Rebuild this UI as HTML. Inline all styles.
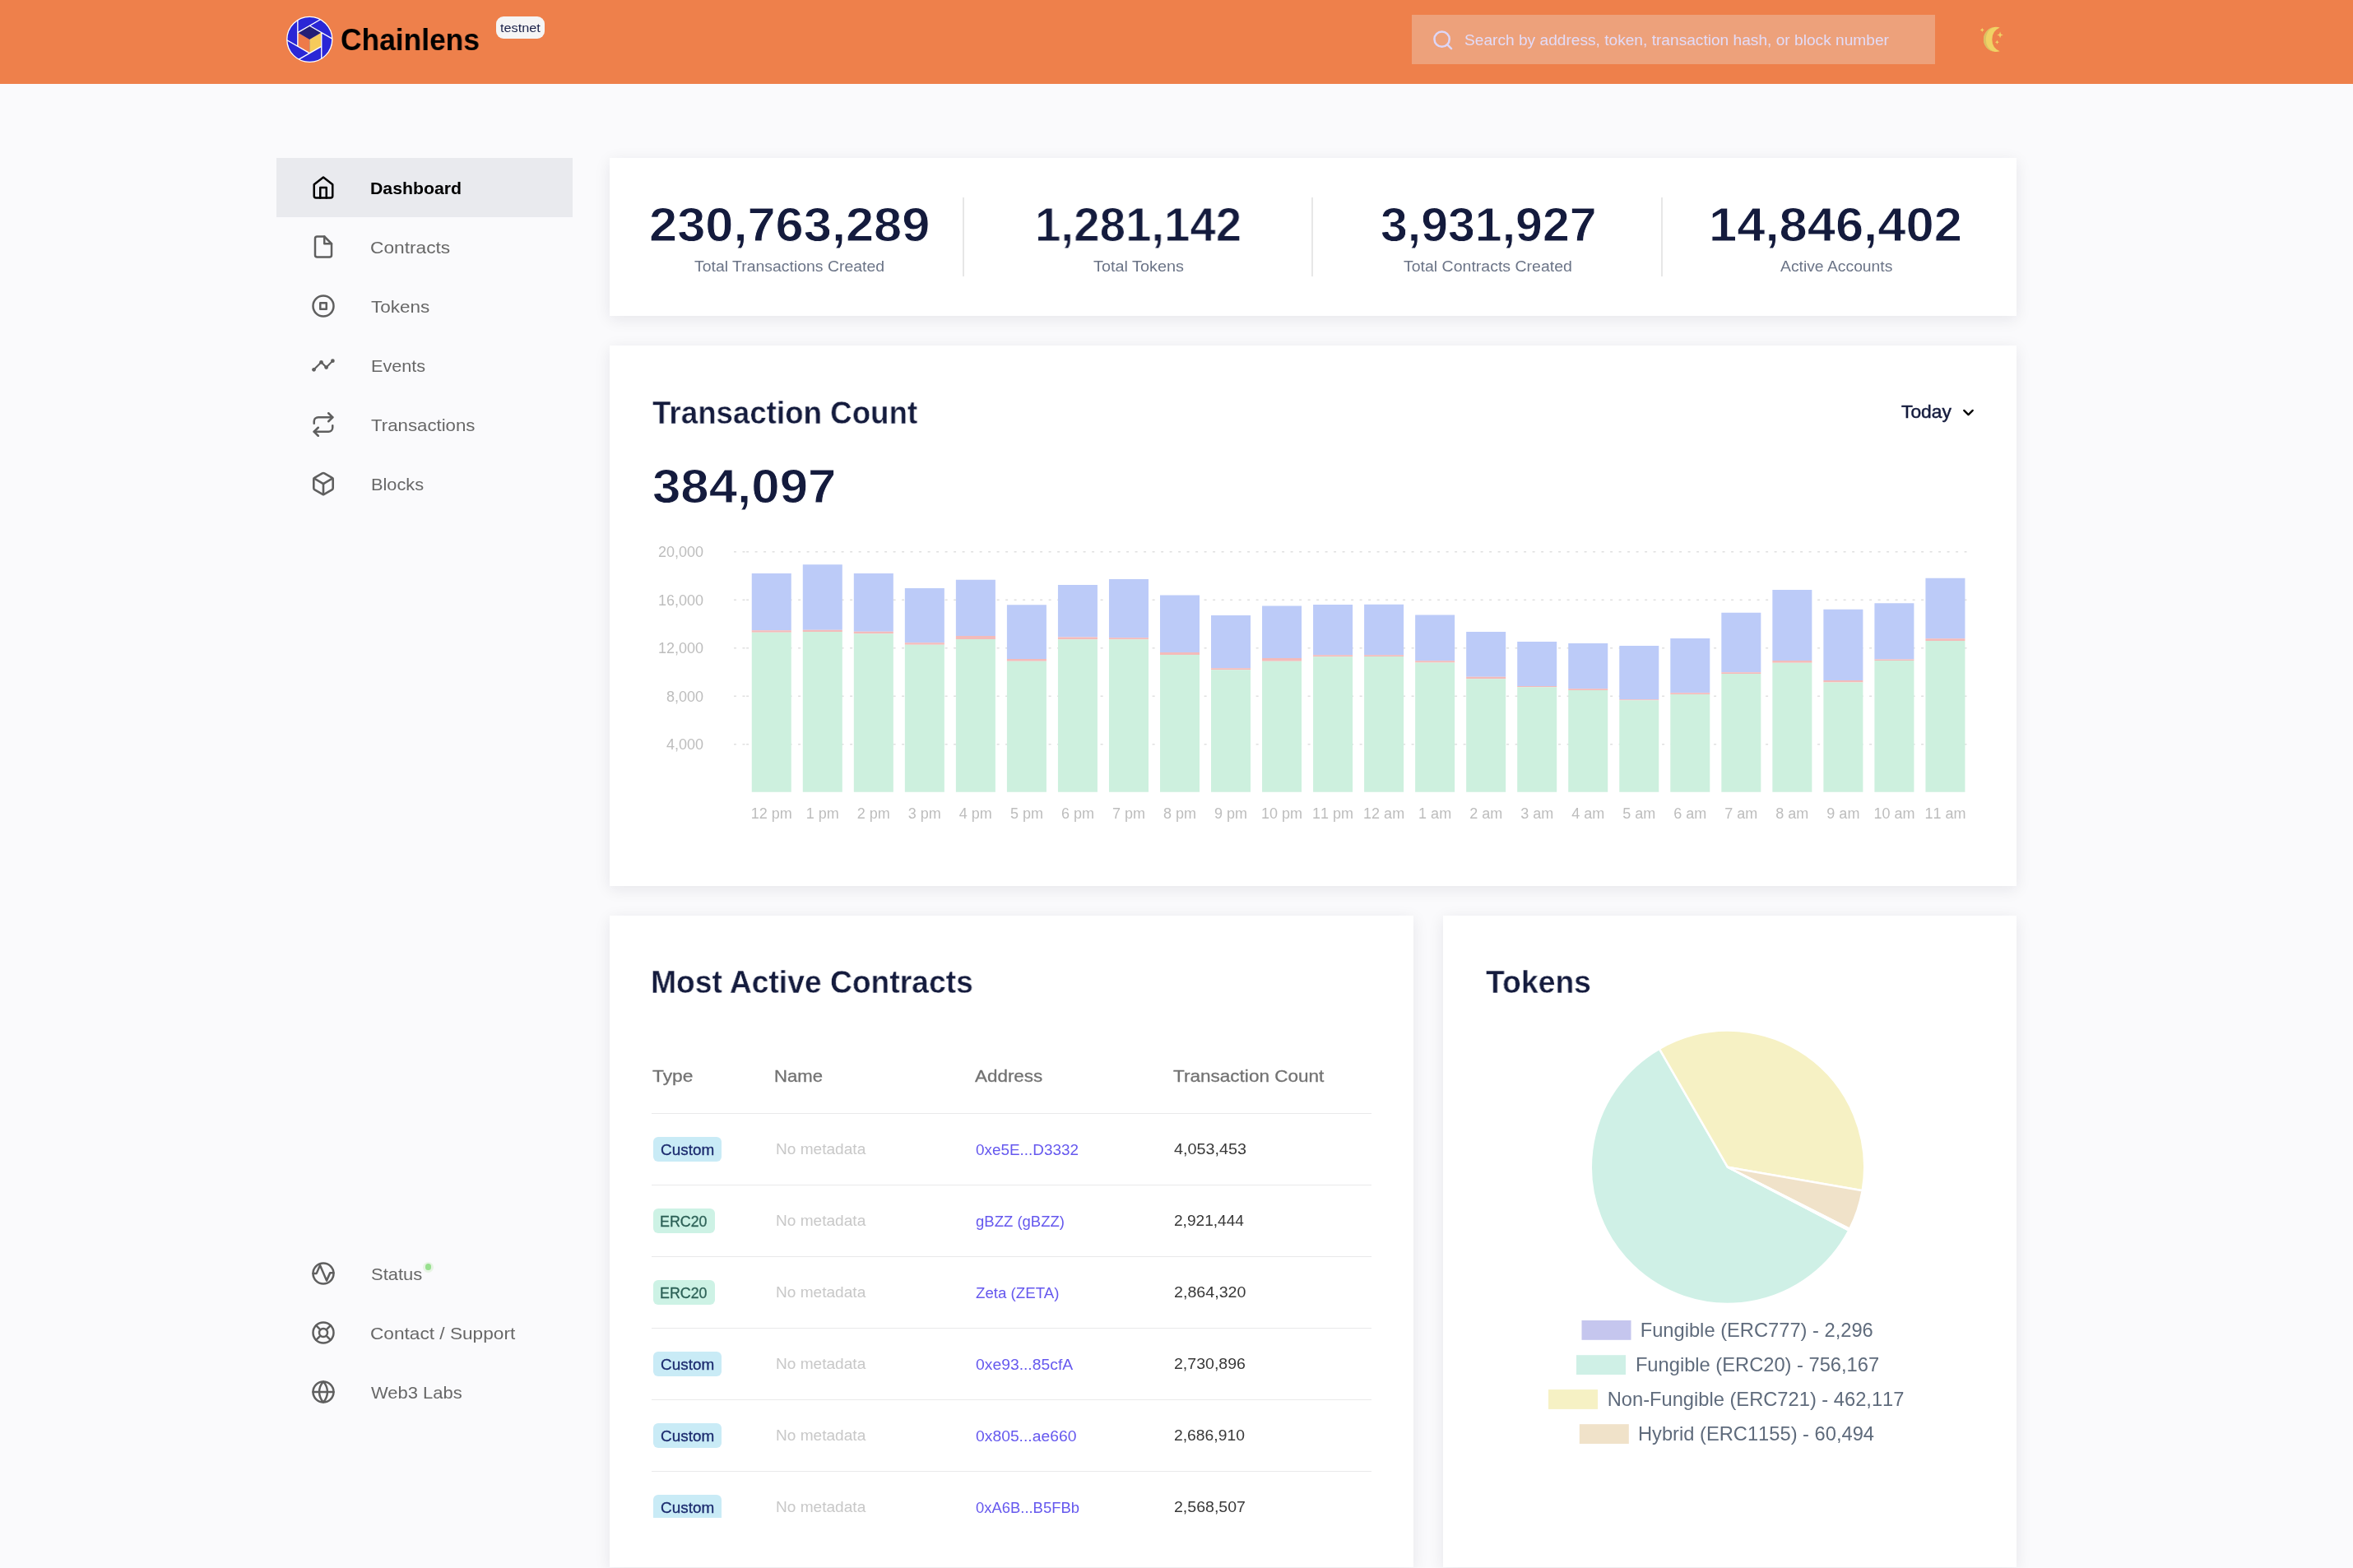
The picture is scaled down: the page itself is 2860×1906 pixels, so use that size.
<!DOCTYPE html>
<html lang="en">
<head>
<meta charset="utf-8">
<title>Chainlens</title>
<style>
*{box-sizing:border-box;margin:0;padding:0}
html,body{width:2860px;height:1906px;overflow:hidden;background:#fafafc}
body{font-family:"Liberation Sans",sans-serif;color:#141b3d;position:relative}
.abs{position:absolute}
.t{position:absolute;white-space:nowrap;line-height:1;transform-origin:0 50%;will-change:transform}
#header{position:absolute;left:0;top:0;width:2860px;height:102px;background:#ee804b}
#search{position:absolute;left:1716px;top:18px;width:636px;height:60px;background:#eda17b}
.card{position:absolute;background:#fff;box-shadow:0 4px 18px rgba(25,25,45,.085)}
.nav{position:absolute;left:336px;width:360px;height:72px;background:#e9eaee}
.ico{position:absolute;left:378px;width:30px;height:30px;fill:none;stroke:#5f5f5f;stroke-width:2;stroke-linecap:round;stroke-linejoin:round}
.badge{position:absolute;left:794px;height:29.5px;border-radius:6px}
.b-c{background:#c9ebf6;width:83px}
.b-e{background:#cdf2e5;width:74.75px}
.rowline{position:absolute;left:792px;width:875px;height:1.5px;background:#e9e9ea}
.vdiv{position:absolute;top:240px;width:2px;height:95.5px;background:#e7e7e7}
</style>
</head>
<body>
<div id="header">
<svg class="abs" style="left:340px;top:10px" width="80" height="80" viewBox="340 10 80 80">
<circle cx="376.3" cy="47.95" r="27.5" fill="#2a27d6" stroke="#fff" stroke-width="1.3"/>
<path d="M376.30 31.25L361.84 39.60L376.30 47.95L390.76 39.60Z" fill="#231e76"/>
<path d="M361.84 39.60L376.30 47.95L376.30 64.65L361.84 56.30Z" fill="#ee7a49"/>
<path d="M390.76 39.60L376.30 47.95L376.30 64.65L390.76 56.30Z" fill="#f6cb5b"/>
<path d="M376.30 31.25L403.79 47.12 M390.76 39.60L390.76 71.34 M390.76 56.30L363.28 72.17 M376.30 64.65L348.81 48.78 M361.84 56.30L361.84 24.56 M361.84 39.60L389.32 23.73" stroke="#fff" stroke-width="1.35" fill="none"/>
</svg>

<span class="t" id="brand" style="left:413.64px;top:31.01px;font-size:36.72px;color:#000;font-weight:bold;transform:scaleX(0.9633);">Chainlens</span>
<div class="abs" style="left:603px;top:20px;width:59.3px;height:27.2px;border-radius:9px;background:#f5f5f5"></div>
<span class="t" id="testnet" style="left:607.7px;top:26.0px;font-size:15.3px;color:#1a2148;transform:scaleX(1.0628);">testnet</span>
<div id="search"></div>
<svg class="abs" style="left:1740px;top:35px;fill:none;stroke:#ddd6f7;stroke-width:2.2;stroke-linecap:round;stroke-linejoin:round" width="27.5" height="27.5" viewBox="0 0 24 24"><circle cx="11" cy="11" r="8"/><line x1="21" y1="21" x2="16.65" y2="16.65"/></svg>
<span class="t" id="ph" style="left:1780.0px;top:41.0px;font-size:17.85px;color:#e3dbf7;transform:scaleX(1.0725);">Search by address, token, transaction hash, or block number</span>
<svg class="abs" style="left:2400px;top:26px" width="44" height="44" viewBox="2400 26 44 44">
<path d="M2430.7 33.5A15.1 15.1 0 1 0 2430.7 62.3A15.75 15.75 0 0 1 2430.7 33.5Z" fill="#f0d265"/>
<path d="M2423 33.1A15.1 15.1 0 0 0 2423 62.7A16.5 16.5 0 0 1 2423 33.1Z" fill="#dcc063"/>
<path d="M2409.3 33.9l.8 1.7 1.7.8-1.7.8-.8 1.7-.8-1.7-1.7-.8 1.7-.8z" fill="#f0d265"/>
<path d="M2431.1 38.6l1 2.8 2.8 1-2.8 1-1 2.8-1-2.8-2.8-1 2.8-1z" fill="#f0d265"/>
<path d="M2427.4 48.7l.8 1.7 1.7.8-1.7.8-.8 1.7-.8-1.7-1.7-.8 1.7-.8z" fill="#f0d265"/>
</svg>

</div>
<div class="nav" style="top:192px"></div>
<svg class="ico" style="top:213px;stroke:#000;" viewBox="0 0 24 24"><path d="M3 9l9-7 9 7v11a2 2 0 0 1-2 2H5a2 2 0 0 1-2-2z"/><polyline points="9 22 9 12 15 12 15 22"/></svg>
<span class="t" id="nav0" style="left:449.96px;top:219.01px;font-size:20.4px;color:#000;font-weight:bold;transform:scaleX(1.0433);">Dashboard</span>
<svg class="ico" style="top:285px;" viewBox="0 0 24 24"><path d="M13 2H6a2 2 0 0 0-2 2v16a2 2 0 0 0 2 2h12a2 2 0 0 0 2-2V9z"/><polyline points="13 2 13 9 20 9"/></svg>
<span class="t" id="nav1" style="left:449.89px;top:291.01px;font-size:20.4px;color:#676767;transform:scaleX(1.1143);">Contracts</span>
<svg class="ico" style="top:357px;" viewBox="0 0 24 24"><circle cx="12" cy="12" r="10"/><rect x="9" y="9" width="6" height="6"/></svg>
<span class="t" id="nav2" style="left:451.0px;top:363.01px;font-size:20.4px;color:#676767;transform:scaleX(1.1039);">Tokens</span>
<svg class="ico" style="top:429px;" viewBox="0 0 24 24"><polyline stroke-width="1.7" points="2.8 16.2 10 9 14.9 14 21.1 7.7"/><g fill="#5f5f5f" stroke="none"><circle cx="2.8" cy="16.2" r="1.9"/><circle cx="10" cy="9" r="1.9"/><circle cx="14.9" cy="14" r="1.9"/><circle cx="21.1" cy="7.7" r="1.9"/></g></svg>
<span class="t" id="nav3" style="left:450.54px;top:435.01px;font-size:20.4px;color:#676767;transform:scaleX(1.0615);">Events</span>
<svg class="ico" style="top:501px;" viewBox="0 0 24 24"><polyline points="17 1 21 5 17 9"/><path d="M3 11V9a4 4 0 0 1 4-4h14"/><polyline points="7 23 3 19 7 15"/><path d="M21 13v2a4 4 0 0 1-4 4H3"/></svg>
<span class="t" id="nav4" style="left:451.25px;top:507.01px;font-size:20.4px;color:#676767;transform:scaleX(1.0905);">Transactions</span>
<svg class="ico" style="top:573px;" viewBox="0.45 0.45 23.1 23.1"><path d="M21 16V8a2 2 0 0 0-1-1.73l-7-4a2 2 0 0 0-2 0l-7 4A2 2 0 0 0 3 8v8a2 2 0 0 0 1 1.73l7 4a2 2 0 0 0 2 0l7-4A2 2 0 0 0 21 16z"/><polyline points="3.27 6.96 12 12.01 20.73 6.96"/><line x1="12" y1="22.08" x2="12" y2="12"/></svg>
<span class="t" id="nav5" style="left:450.53px;top:579.01px;font-size:20.4px;color:#676767;transform:scaleX(1.0669);">Blocks</span>
<svg class="ico" style="top:1533px;" viewBox="0 0 24 24"><circle cx="12" cy="12" r="10"/><polyline points="2 11.9 5.4 11.9 8.8 4 15.2 18.9 18.6 11.3 22 11.3"/></svg>
<span class="t" id="nav6" style="left:451.0px;top:1539.01px;font-size:20.4px;color:#676767;transform:scaleX(1.0762);">Status</span>
<svg class="ico" style="top:1605px;" viewBox="0 0 24 24"><circle cx="12" cy="12" r="10"/><circle cx="12" cy="12" r="4"/><line x1="4.93" y1="4.93" x2="9.17" y2="9.17"/><line x1="14.83" y1="14.83" x2="19.07" y2="19.07"/><line x1="14.83" y1="9.17" x2="19.07" y2="4.93"/><line x1="4.93" y1="19.07" x2="9.17" y2="14.83"/></svg>
<span class="t" id="nav7" style="left:449.89px;top:1611.01px;font-size:20.4px;color:#676767;transform:scaleX(1.1106);">Contact / Support</span>
<svg class="ico" style="top:1677px;" viewBox="0 0 24 24"><circle cx="12" cy="12" r="10"/><line x1="2" y1="12" x2="22" y2="12"/><path d="M12 2a15.3 15.3 0 0 1 4 10 15.3 15.3 0 0 1-4 10 15.3 15.3 0 0 1-4-10 15.3 15.3 0 0 1 4-10z"/></svg>
<span class="t" id="nav8" style="left:451.0px;top:1683.01px;font-size:20.4px;color:#676767;transform:scaleX(1.0772);">Web3 Labs</span>
<div class="abs" style="left:514px;top:1533.5px;width:13px;height:13px;border-radius:50%;background:#e7f4e4"></div><div class="abs" style="left:516.9px;top:1536.4px;width:7.4px;height:7.4px;border-radius:50%;background:#98e08f"></div>
<div class="card" style="left:741px;top:192px;width:1710px;height:192px"></div>
<div class="card" style="left:741px;top:420px;width:1710px;height:657px"></div>
<div class="card" style="left:741px;top:1113px;width:977px;height:791.5px"></div>
<div class="card" style="left:1754px;top:1113px;width:697px;height:791.5px"></div>
<div class="vdiv" style="left:1170px"></div>
<div class="vdiv" style="left:1594.4px"></div>
<div class="vdiv" style="left:2018.8px"></div>
<span class="t" id="n1" style="left:788.98px;top:245.01px;font-size:57.12px;color:#141b3d;font-weight:bold;transform:scaleX(1.0749);-webkit-text-stroke:0.9px #fff;">230,763,289</span>
<span class="t" id="n2" style="left:1257.58px;top:245.01px;font-size:57.12px;color:#141b3d;font-weight:bold;transform:scaleX(0.9888);-webkit-text-stroke:0.9px #fff;">1,281,142</span>
<span class="t" id="n3" style="left:1677.62px;top:245.01px;font-size:57.12px;color:#141b3d;font-weight:bold;transform:scaleX(1.0334);-webkit-text-stroke:0.9px #fff;">3,931,927</span>
<span class="t" id="n4" style="left:2077.42px;top:245.01px;font-size:57.12px;color:#141b3d;font-weight:bold;transform:scaleX(1.077);-webkit-text-stroke:0.9px #fff;">14,846,402</span>
<span class="t" id="l1" style="left:843.75px;top:314.01px;font-size:19.12px;color:#6b7487;transform:scaleX(1.0164);">Total Transactions Created</span>
<span class="t" id="l2" style="left:1329.1px;top:314.01px;font-size:19.12px;color:#6b7487;transform:scaleX(1.0391);">Total Tokens</span>
<span class="t" id="l3" style="left:1706.4px;top:314.01px;font-size:19.12px;color:#6b7487;transform:scaleX(1.0204);">Total Contracts Created</span>
<span class="t" id="l4" style="left:2164.1px;top:314.01px;font-size:19.12px;color:#6b7487;transform:scaleX(1.0111);">Active Accounts</span>
<span class="t" id="h_tc" style="left:792.8px;top:482.51px;font-size:38.25px;color:#141b3d;font-weight:bold;transform:scaleX(0.9594);-webkit-text-stroke:0.4px #fff;">Transaction Count</span>
<span class="t" id="today" style="left:2310.8px;top:490.91px;font-size:21.42px;color:#141b3d;transform:scaleX(1.0659);-webkit-text-stroke:0.45px #141b3d;">Today</span>
<span class="t" id="big" style="left:793.47px;top:562.51px;font-size:57.12px;color:#141b3d;font-weight:bold;transform:scaleX(1.0821);-webkit-text-stroke:0.9px #fff;">384,097</span>
<span class="t" id="h_mac" style="left:790.85px;top:1175.01px;font-size:38.25px;color:#141b3d;font-weight:bold;transform:scaleX(0.9734);-webkit-text-stroke:0.4px #fff;">Most Active Contracts</span>
<span class="t" id="h_tok" style="left:1806.05px;top:1175.01px;font-size:38.25px;color:#141b3d;font-weight:bold;transform:scaleX(0.9757);-webkit-text-stroke:0.4px #fff;">Tokens</span>
<span class="t" id="th1" style="left:793.0px;top:1298.01px;font-size:20.4px;color:#727272;transform:scaleX(1.1171);-webkit-text-stroke:0.3px #727272;">Type</span>
<span class="t" id="th2" style="left:941.42px;top:1298.01px;font-size:20.4px;color:#727272;transform:scaleX(1.0839);-webkit-text-stroke:0.3px #727272;">Name</span>
<span class="t" id="th3" style="left:1184.5px;top:1298.01px;font-size:20.4px;color:#727272;transform:scaleX(1.0991);-webkit-text-stroke:0.3px #727272;">Address</span>
<span class="t" id="th4" style="left:1426.25px;top:1298.01px;font-size:20.4px;color:#727272;transform:scaleX(1.1057);-webkit-text-stroke:0.3px #727272;">Transaction Count</span>
<svg class="abs" style="left:2382px;top:491px;fill:none;stroke:#000;stroke-width:2.6;stroke-linecap:round;stroke-linejoin:round" width="21" height="21" viewBox="0 0 24 24"><polyline points="6 9 12 15 18 9"/></svg>
<svg class="abs" style="left:780px;top:640px;will-change:transform;font-kerning:none" width="1671" height="400" viewBox="780 640 1671 400" font-family="Liberation Sans, sans-serif" font-kerning="none" font-size="18" fill="#bdbdbd">
<path d="M892 670.75H907M907.1 670.75H2390.5" stroke="#e0e0e0" stroke-width="1.3" stroke-dasharray="3 7.5" fill="none"/>
<path d="M892 729.25H907M907.1 729.25H2390.5" stroke="#e0e0e0" stroke-width="1.3" stroke-dasharray="3 7.5" fill="none"/>
<path d="M892 787.75H907M907.1 787.75H2390.5" stroke="#e0e0e0" stroke-width="1.3" stroke-dasharray="3 7.5" fill="none"/>
<path d="M892 846.25H907M907.1 846.25H2390.5" stroke="#e0e0e0" stroke-width="1.3" stroke-dasharray="3 7.5" fill="none"/>
<path d="M892 904.75H907M907.1 904.75H2390.5" stroke="#e0e0e0" stroke-width="1.3" stroke-dasharray="3 7.5" fill="none"/>
<text x="855" y="677.00" text-anchor="end">20,000</text>
<text x="855" y="735.50" text-anchor="end">16,000</text>
<text x="855" y="794.00" text-anchor="end">12,000</text>
<text x="855" y="852.50" text-anchor="end">8,000</text>
<text x="855" y="911.00" text-anchor="end">4,000</text>
<rect x="913.75" y="697" width="48" height="69.25" fill="#bccbf8"/><rect x="913.75" y="766.25" width="48" height="2.50" fill="#f3bbba"/><rect x="913.75" y="768.75" width="48" height="194.00" fill="#cdf0de"/>
<text x="937.75" y="994.5" text-anchor="middle">12 pm</text>
<rect x="975.78" y="686.25" width="48" height="79.50" fill="#bccbf8"/><rect x="975.78" y="765.75" width="48" height="2.25" fill="#f3bbba"/><rect x="975.78" y="768" width="48" height="194.75" fill="#cdf0de"/>
<text x="999.78" y="994.5" text-anchor="middle">1 pm</text>
<rect x="1037.81" y="697" width="48" height="70.75" fill="#bccbf8"/><rect x="1037.81" y="767.75" width="48" height="2.50" fill="#f3bbba"/><rect x="1037.81" y="770.25" width="48" height="192.50" fill="#cdf0de"/>
<text x="1061.81" y="994.5" text-anchor="middle">2 pm</text>
<rect x="1099.84" y="715" width="48" height="66.25" fill="#bccbf8"/><rect x="1099.84" y="781.25" width="48" height="2.50" fill="#f3bbba"/><rect x="1099.84" y="783.75" width="48" height="179.00" fill="#cdf0de"/>
<text x="1123.84" y="994.5" text-anchor="middle">3 pm</text>
<rect x="1161.87" y="704.75" width="48" height="68.25" fill="#bccbf8"/><rect x="1161.87" y="773" width="48" height="4.00" fill="#f3bbba"/><rect x="1161.87" y="777" width="48" height="185.75" fill="#cdf0de"/>
<text x="1185.87" y="994.5" text-anchor="middle">4 pm</text>
<rect x="1223.9" y="735.25" width="48" height="65.75" fill="#bccbf8"/><rect x="1223.9" y="801" width="48" height="2.75" fill="#f3bbba"/><rect x="1223.9" y="803.75" width="48" height="159.00" fill="#cdf0de"/>
<text x="1247.9" y="994.5" text-anchor="middle">5 pm</text>
<rect x="1285.93" y="711" width="48" height="63.50" fill="#bccbf8"/><rect x="1285.93" y="774.5" width="48" height="2.75" fill="#f3bbba"/><rect x="1285.93" y="777.25" width="48" height="185.50" fill="#cdf0de"/>
<text x="1309.93" y="994.5" text-anchor="middle">6 pm</text>
<rect x="1347.96" y="704" width="48" height="71.25" fill="#bccbf8"/><rect x="1347.96" y="775.25" width="48" height="2.00" fill="#f3bbba"/><rect x="1347.96" y="777.25" width="48" height="185.50" fill="#cdf0de"/>
<text x="1371.96" y="994.5" text-anchor="middle">7 pm</text>
<rect x="1409.99" y="723.5" width="48" height="69.50" fill="#bccbf8"/><rect x="1409.99" y="793" width="48" height="3.00" fill="#f3bbba"/><rect x="1409.99" y="796" width="48" height="166.75" fill="#cdf0de"/>
<text x="1433.99" y="994.5" text-anchor="middle">8 pm</text>
<rect x="1472.02" y="748" width="48" height="64.25" fill="#bccbf8"/><rect x="1472.02" y="812.25" width="48" height="2.00" fill="#f3bbba"/><rect x="1472.02" y="814.25" width="48" height="148.50" fill="#cdf0de"/>
<text x="1496.02" y="994.5" text-anchor="middle">9 pm</text>
<rect x="1534.05" y="736.5" width="48" height="63.50" fill="#bccbf8"/><rect x="1534.05" y="800" width="48" height="3.75" fill="#f3bbba"/><rect x="1534.05" y="803.75" width="48" height="159.00" fill="#cdf0de"/>
<text x="1558.05" y="994.5" text-anchor="middle">10 pm</text>
<rect x="1596.08" y="735" width="48" height="61.25" fill="#bccbf8"/><rect x="1596.08" y="796.25" width="48" height="2.00" fill="#f3bbba"/><rect x="1596.08" y="798.25" width="48" height="164.50" fill="#cdf0de"/>
<text x="1620.08" y="994.5" text-anchor="middle">11 pm</text>
<rect x="1658.1100000000001" y="734.75" width="48" height="61.50" fill="#bccbf8"/><rect x="1658.1100000000001" y="796.25" width="48" height="1.75" fill="#f3bbba"/><rect x="1658.1100000000001" y="798" width="48" height="164.75" fill="#cdf0de"/>
<text x="1682.1100000000001" y="994.5" text-anchor="middle">12 am</text>
<rect x="1720.1399999999999" y="747.5" width="48" height="55.75" fill="#bccbf8"/><rect x="1720.1399999999999" y="803.25" width="48" height="2.25" fill="#f3bbba"/><rect x="1720.1399999999999" y="805.5" width="48" height="157.25" fill="#cdf0de"/>
<text x="1744.1399999999999" y="994.5" text-anchor="middle">1 am</text>
<rect x="1782.17" y="768" width="48" height="54.75" fill="#bccbf8"/><rect x="1782.17" y="822.75" width="48" height="2.50" fill="#f3bbba"/><rect x="1782.17" y="825.25" width="48" height="137.50" fill="#cdf0de"/>
<text x="1806.17" y="994.5" text-anchor="middle">2 am</text>
<rect x="1844.2" y="780" width="48" height="54.00" fill="#bccbf8"/><rect x="1844.2" y="834" width="48" height="1.25" fill="#f3bbba"/><rect x="1844.2" y="835.25" width="48" height="127.50" fill="#cdf0de"/>
<text x="1868.2" y="994.5" text-anchor="middle">3 am</text>
<rect x="1906.23" y="782" width="48" height="55.25" fill="#bccbf8"/><rect x="1906.23" y="837.25" width="48" height="1.75" fill="#f3bbba"/><rect x="1906.23" y="839" width="48" height="123.75" fill="#cdf0de"/>
<text x="1930.23" y="994.5" text-anchor="middle">4 am</text>
<rect x="1968.26" y="785" width="48" height="65.25" fill="#bccbf8"/><rect x="1968.26" y="850.25" width="48" height="1.00" fill="#f3bbba"/><rect x="1968.26" y="851.25" width="48" height="111.50" fill="#cdf0de"/>
<text x="1992.26" y="994.5" text-anchor="middle">5 am</text>
<rect x="2030.29" y="776" width="48" height="66.25" fill="#bccbf8"/><rect x="2030.29" y="842.25" width="48" height="1.75" fill="#f3bbba"/><rect x="2030.29" y="844" width="48" height="118.75" fill="#cdf0de"/>
<text x="2054.29" y="994.5" text-anchor="middle">6 am</text>
<rect x="2092.3199999999997" y="744.75" width="48" height="72.50" fill="#bccbf8"/><rect x="2092.3199999999997" y="817.25" width="48" height="1.75" fill="#f3bbba"/><rect x="2092.3199999999997" y="819" width="48" height="143.75" fill="#cdf0de"/>
<text x="2116.3199999999997" y="994.5" text-anchor="middle">7 am</text>
<rect x="2154.35" y="717" width="48" height="86.00" fill="#bccbf8"/><rect x="2154.35" y="803" width="48" height="2.75" fill="#f3bbba"/><rect x="2154.35" y="805.75" width="48" height="157.00" fill="#cdf0de"/>
<text x="2178.35" y="994.5" text-anchor="middle">8 am</text>
<rect x="2216.38" y="740.75" width="48" height="86.25" fill="#bccbf8"/><rect x="2216.38" y="827" width="48" height="2.50" fill="#f3bbba"/><rect x="2216.38" y="829.5" width="48" height="133.25" fill="#cdf0de"/>
<text x="2240.38" y="994.5" text-anchor="middle">9 am</text>
<rect x="2278.41" y="733.25" width="48" height="68.25" fill="#bccbf8"/><rect x="2278.41" y="801.5" width="48" height="1.50" fill="#f3bbba"/><rect x="2278.41" y="803" width="48" height="159.75" fill="#cdf0de"/>
<text x="2302.41" y="994.5" text-anchor="middle">10 am</text>
<rect x="2340.44" y="702.75" width="48" height="73.50" fill="#bccbf8"/><rect x="2340.44" y="776.25" width="48" height="2.75" fill="#f3bbba"/><rect x="2340.44" y="779" width="48" height="183.75" fill="#cdf0de"/>
<text x="2364.44" y="994.5" text-anchor="middle">11 am</text>
</svg>
<div class="rowline" style="top:1352.75px"></div>
<div class="rowline" style="top:1439.75px"></div>
<div class="rowline" style="top:1526.75px"></div>
<div class="rowline" style="top:1613.75px"></div>
<div class="rowline" style="top:1700.75px"></div>
<div class="rowline" style="top:1787.75px"></div>
<div class="badge b-c" style="top:1382.25px"></div>
<span class="t" id="b0" style="left:803.25px;top:1389.75px;font-size:17.85px;color:#1c2b6e;transform:scaleX(1.06);-webkit-text-stroke:0.3px #1c2b6e;">Custom</span>
<span class="t" id="m0" style="left:943.18px;top:1388.96px;font-size:17.85px;color:#c8c8c8;transform:scaleX(1.0692);">No metadata</span>
<span class="t" id="a0" style="left:1185.5px;top:1389.75px;font-size:17.85px;color:#6558ee;transform:scaleX(1.0582);">0xe5E...D3332</span>
<span class="t" id="c0" style="left:1427.0px;top:1388.96px;font-size:17.85px;color:#383838;transform:scaleX(1.1075);">4,053,453</span>
<div class="badge b-e" style="top:1469.25px"></div>
<span class="t" id="b1" style="left:802.0px;top:1476.75px;font-size:17.85px;color:#2b5f55;transform:scaleX(0.9983);-webkit-text-stroke:0.3px #2b5f55;">ERC20</span>
<span class="t" id="m1" style="left:943.18px;top:1475.96px;font-size:17.85px;color:#c8c8c8;transform:scaleX(1.0692);">No metadata</span>
<span class="t" id="a1" style="left:1185.5px;top:1476.75px;font-size:17.85px;color:#6558ee;transform:scaleX(1.0373);">gBZZ (gBZZ)</span>
<span class="t" id="c1" style="left:1427.0px;top:1475.96px;font-size:17.85px;color:#383838;transform:scaleX(1.0697);">2,921,444</span>
<div class="badge b-e" style="top:1556.25px"></div>
<span class="t" id="b2" style="left:802.0px;top:1563.75px;font-size:17.85px;color:#2b5f55;transform:scaleX(0.9983);-webkit-text-stroke:0.3px #2b5f55;">ERC20</span>
<span class="t" id="m2" style="left:943.18px;top:1562.96px;font-size:17.85px;color:#c8c8c8;transform:scaleX(1.0692);">No metadata</span>
<span class="t" id="a2" style="left:1185.5px;top:1563.75px;font-size:17.85px;color:#6558ee;transform:scaleX(1.0482);">Zeta (ZETA)</span>
<span class="t" id="c2" style="left:1427.0px;top:1562.96px;font-size:17.85px;color:#383838;transform:scaleX(1.1012);">2,864,320</span>
<div class="badge b-c" style="top:1643.25px"></div>
<span class="t" id="b3" style="left:803.25px;top:1650.75px;font-size:17.85px;color:#1c2b6e;transform:scaleX(1.06);-webkit-text-stroke:0.3px #1c2b6e;">Custom</span>
<span class="t" id="m3" style="left:943.18px;top:1649.96px;font-size:17.85px;color:#c8c8c8;transform:scaleX(1.0692);">No metadata</span>
<span class="t" id="a3" style="left:1185.5px;top:1650.75px;font-size:17.85px;color:#6558ee;transform:scaleX(1.0827);">0xe93...85cfA</span>
<span class="t" id="c3" style="left:1427.0px;top:1649.96px;font-size:17.85px;color:#383838;transform:scaleX(1.0949);">2,730,896</span>
<div class="badge b-c" style="top:1730.25px"></div>
<span class="t" id="b4" style="left:803.25px;top:1737.75px;font-size:17.85px;color:#1c2b6e;transform:scaleX(1.06);-webkit-text-stroke:0.3px #1c2b6e;">Custom</span>
<span class="t" id="m4" style="left:943.18px;top:1736.96px;font-size:17.85px;color:#c8c8c8;transform:scaleX(1.0692);">No metadata</span>
<span class="t" id="a4" style="left:1185.5px;top:1737.75px;font-size:17.85px;color:#6558ee;transform:scaleX(1.0823);">0x805...ae660</span>
<span class="t" id="c4" style="left:1427.0px;top:1736.96px;font-size:17.85px;color:#383838;transform:scaleX(1.0823);">2,686,910</span>
<div class="badge b-c" style="top:1817.25px;height:27.75px;border-bottom-left-radius:0;border-bottom-right-radius:0"></div>
<span class="t" id="b5" style="left:803.25px;top:1824.75px;font-size:17.85px;color:#1c2b6e;transform:scaleX(1.06);-webkit-text-stroke:0.3px #1c2b6e;">Custom</span>
<span class="t" id="m5" style="left:943.18px;top:1823.96px;font-size:17.85px;color:#c8c8c8;transform:scaleX(1.0692);">No metadata</span>
<span class="t" id="a5" style="left:1185.5px;top:1824.75px;font-size:17.85px;color:#6558ee;transform:scaleX(1.0322);">0xA6B...B5FBb</span>
<span class="t" id="c5" style="left:1427.0px;top:1823.96px;font-size:17.85px;color:#383838;transform:scaleX(1.0949);">2,568,507</span>
<svg class="abs" style="left:1860px;top:1240px;will-change:transform;font-kerning:none" width="480" height="540" viewBox="1860 1240 480 540" font-family="Liberation Sans, sans-serif" font-kerning="none" font-size="23.7" fill="#5f6b7c">
<path d="M2100 1418.75L2247.35 1495.62A166.2 166.2 0 1 1 2016.90 1274.82Z" fill="#cff0e6" stroke="#fff" stroke-width="2.5" stroke-linejoin="round"/>
<path d="M2100 1418.75L2016.90 1274.82A166.2 166.2 0 0 1 2263.73 1447.32Z" fill="#f6f1c4" stroke="#fff" stroke-width="2.5" stroke-linejoin="round"/>
<path d="M2100 1418.75L2263.73 1447.32A166.2 166.2 0 0 1 2248.22 1493.94Z" fill="#f0e2c9" stroke="#fff" stroke-width="2.5" stroke-linejoin="round"/>
<path d="M2100 1418.75L2248.22 1493.94A166.2 166.2 0 0 1 2247.35 1495.62Z" fill="#c5c6ee" stroke="#fff" stroke-width="2.5" stroke-linejoin="round"/>
<rect x="1922.5" y="1605" width="60" height="23.8" fill="#c5c6ee"/>
<text x="1993.70" y="1624.70">Fungible (ERC777) - 2,296</text>
<rect x="1916" y="1647.2" width="60" height="23.8" fill="#cff0e6"/>
<text x="1987.90" y="1666.90">Fungible (ERC20) - 756,167</text>
<rect x="1882" y="1689.1" width="60" height="23.8" fill="#f6f1c4"/>
<text x="1953.70" y="1708.80">Non-Fungible (ERC721) - 462,117</text>
<rect x="1919.8" y="1731.2" width="60" height="23.8" fill="#f0e2c9"/>
<text x="1991.00" y="1750.90">Hybrid (ERC1155) - 60,494</text>
</svg>
<script>(function(){var w=window.innerWidth;if(w&&Math.abs(w-2860)>1){document.documentElement.style.zoom=w/2860;}})();</script>
</body>
</html>
